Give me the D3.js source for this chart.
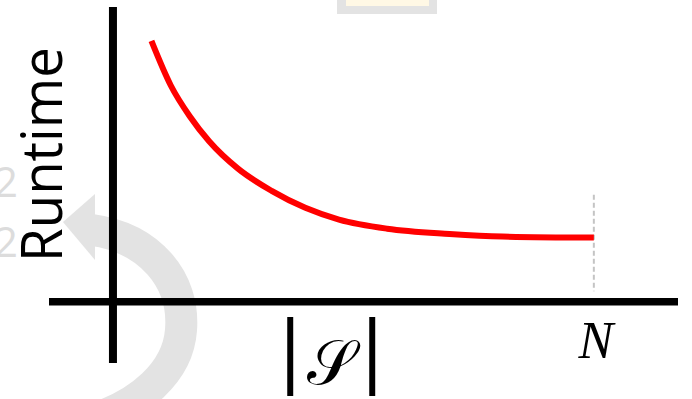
<!DOCTYPE html>
<html lang="en">
<head>
    <meta charset="UTF-8">
    <title>Runtime vs |S|</title>
    <script src="https://d3js.org/d3.v7.min.js"></script>
    <style>
        body { margin: 0; background: #fff; }
    </style>
</head>
<body>
    <svg width="692" height="399"></svg>

    <script>
        // Curve values (|S| in % of N, runtime in arbitrary units)
        const setSizes = [8, 12, 16, 20, 26, 33, 40, 47, 57, 70, 81, 100];
        const runtimes = [100, 83, 71, 61.5, 51, 42.5, 36, 31.5, 28, 26, 25, 24.6];

        // Axis labels
        const xTickValues = [45.4, 100];
        const xTickLabels = ["|𝒮|", "N"];
        const yLabel = "Runtime";
        const markerValue = 100;   // dashed line at N

        const width = 692;
        const height = 399;

        const svg = d3.select("svg")
            .attr("width", width)
            .attr("height", height);

        // Scales: domain extents give the axis line ends
        const x = d3.scaleLinear()
            .domain([-13.3, 117.5])
            .range([49, 678]);

        const y = d3.scaleLinear()
            .domain([-23.5, 113])
            .range([363, 7]);

        // faint background decorations (slide watermark)
        const deco = svg.append("g");
        deco.append("rect")
            .attr("x", 337).attr("y", 0)
            .attr("width", 100).attr("height", 14)
            .attr("fill", "#e3e3e3");
        deco.append("rect")
            .attr("x", 346).attr("y", 0)
            .attr("width", 83).attr("height", 6)
            .attr("fill", "#fff8e5");
        [197, 257].forEach(yy => {
            deco.append("text")
                .attr("x", -6).attr("y", yy)
                .attr("font-family", "'Open Sans', sans-serif")
                .attr("font-size", 42)
                .attr("fill", "#dcdcdc")
                .text("2");
        });
        // curved arrow
        const arc = d3.path();
        arc.moveTo(92, 230);
        arc.bezierCurveTo(150, 238, 185, 280, 181, 330);
        arc.bezierCurveTo(178, 372, 140, 405, 90, 420);
        deco.append("path")
            .attr("d", arc.toString())
            .attr("fill", "none")
            .attr("stroke", "#e3e3e3")
            .attr("stroke-width", 32);
        deco.append("path")
            .attr("d", "M63,222 L95,194 L95,260 Z")
            .attr("fill", "#e3e3e3");

        // axes as plain thick lines
        svg.append("line")
            .attr("x1", x(0)).attr("x2", x(0))
            .attr("y1", y.range()[0]).attr("y2", y.range()[1])
            .attr("stroke", "#000")
            .attr("stroke-width", 8);

        svg.append("line")
            .attr("x1", x.range()[0]).attr("x2", x.range()[1])
            .attr("y1", y(0)).attr("y2", y(0))
            .attr("stroke", "#000")
            .attr("stroke-width", 7.5);

        // dashed marker at N
        svg.append("line")
            .attr("x1", x(markerValue)).attr("x2", x(markerValue))
            .attr("y1", y(41)).attr("y2", y(4))
            .attr("stroke", "#c4c4c4")
            .attr("stroke-width", 2)
            .attr("stroke-dasharray", "5,3");

        // the runtime curve
        const line = d3.line()
            .x((d, i) => x(setSizes[i]))
            .y(d => y(d))
            .curve(d3.curveMonotoneX);

        svg.append("path")
            .datum(runtimes)
            .attr("d", line)
            .attr("fill", "none")
            .attr("stroke", "#ff0000")
            .attr("stroke-width", 6);

        // x labels: |S| and N
        const sx = x(xTickValues[0]);
        [-41, 41].forEach((dx, i) => {
            svg.append("text")
                .attr("x", sx + dx).attr("y", 377)
                .attr("font-family", "'Liberation Serif', serif")
                .attr("font-size", 86)
                .attr("font-weight", "bold")
                .attr("text-anchor", "middle")
                .text(i === 0 ? xTickLabels[0][0] : xTickLabels[0][xTickLabels[0].length - 1]);
        });
        svg.append("text")
            .attr("x", sx).attr("y", 384)
            .attr("font-family", "'DejaVu Serif', 'DejaVu Sans', serif")
            .attr("font-size", 62)
            .attr("text-anchor", "middle")
            .text(xTickLabels[0].slice(1, -1));

        svg.append("text")
            .attr("x", x(xTickValues[1]) + 2).attr("y", 358)
            .attr("font-family", "'Liberation Serif', serif")
            .attr("font-style", "italic")
            .attr("font-size", 52)
            .attr("text-anchor", "middle")
            .text(xTickLabels[1]);

        // y label
        svg.append("text")
            .attr("transform", "translate(62,154.5) rotate(-90)")
            .attr("text-anchor", "middle")
            .attr("font-family", "'Open Sans', sans-serif")
            .attr("font-size", 57)
            .attr("textLength", 215)
            .attr("lengthAdjust", "spacingAndGlyphs")
            .attr("fill", "#000")
            .text(yLabel);
    </script>
</body>
</html>
